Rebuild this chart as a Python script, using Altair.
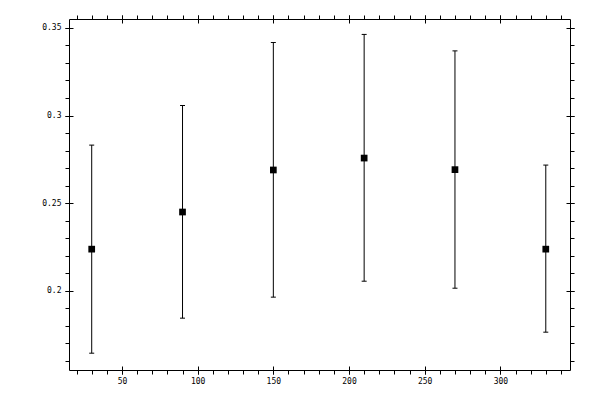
import altair as alt
import pandas as pd

xs = [30, 90, 150, 210, 270, 330]
means = [0.2237, 0.2449, 0.2689, 0.2757, 0.2691, 0.2237]
uppers = [0.2831, 0.3057, 0.3417, 0.3463, 0.3369, 0.2717]
lowers = [0.1643, 0.1843, 0.1963, 0.2054, 0.2014, 0.1763]

x_major = [50, 100, 150, 200, 250, 300]
x_minor = list(range(20, 350, 10))
y_major = [0.2, 0.25, 0.3, 0.35]
y_minor = [round(0.16 + 0.01 * i, 2) for i in range(20)]

df = pd.DataFrame({"x": xs, "mean": means, "upper": uppers, "lower": lowers})

FONT = "DejaVu Sans Mono"
xscale = alt.Scale(domain=[15, 346], nice=False, zero=False)
yscale = alt.Scale(domain=[0.1547, 0.3551], nice=False, zero=False)


def ax(orient, values, major, labels=False, fmt=None):
    kw = dict(
        orient=orient,
        values=values,
        title=None,
        grid=False,
        domain=False,
        ticks=True,
        tickColor="black",
        tickWidth=1,
        labels=labels,
    )
    if major:
        kw.update(tickSize=8, offset=-4)
    else:
        kw.update(tickSize=4)
    if labels:
        kw.update(labelFont=FONT, labelFontSize=8, labelColor="black",
                  labelPadding=4 if orient == "left" else 3)
        if fmt:
            kw.update(format=fmt)
    return alt.Axis(**kw)


base = alt.Chart(df)

rules = base.mark_rule(color="black", strokeWidth=1).encode(
    x=alt.X("x:Q", scale=xscale, axis=ax("bottom", x_major, True, True, "d")),
    y=alt.Y("lower:Q", scale=yscale, axis=ax("left", y_major, True, True, "~g")),
    y2="upper:Q",
)

caps_up = base.mark_tick(orient="horizontal", color="black", size=5, thickness=1, opacity=1).encode(
    x=alt.X("x:Q", scale=xscale, axis=ax("top", x_major, True)),
    y=alt.Y("upper:Q", scale=yscale, axis=ax("right", y_major, True)),
)

caps_lo = base.mark_tick(orient="horizontal", color="black", size=5, thickness=1, opacity=1).encode(
    x=alt.X("x:Q", scale=xscale, axis=ax("bottom", x_minor, False)),
    y=alt.Y("lower:Q", scale=yscale, axis=ax("left", y_minor, False)),
)

pts = base.mark_square(color="black", size=45, opacity=1, filled=True).encode(
    x=alt.X("x:Q", scale=xscale, axis=ax("top", x_minor, False)),
    y=alt.Y("mean:Q", scale=yscale, axis=ax("right", y_minor, False)),
)

chart = (
    alt.layer(rules, caps_up, caps_lo, pts)
    .resolve_axis(x="independent", y="independent")
    .properties(
        width=501,
        height=351,
        autosize=alt.AutoSizeParams(type="none"),
        padding={"left": 61, "top": 11, "right": 20, "bottom": 20},
        background="white",
    )
    .configure_view(stroke="black", strokeWidth=1)
)

chart.save("out.html", embed_options={"renderer": "svg", "actions": False})
